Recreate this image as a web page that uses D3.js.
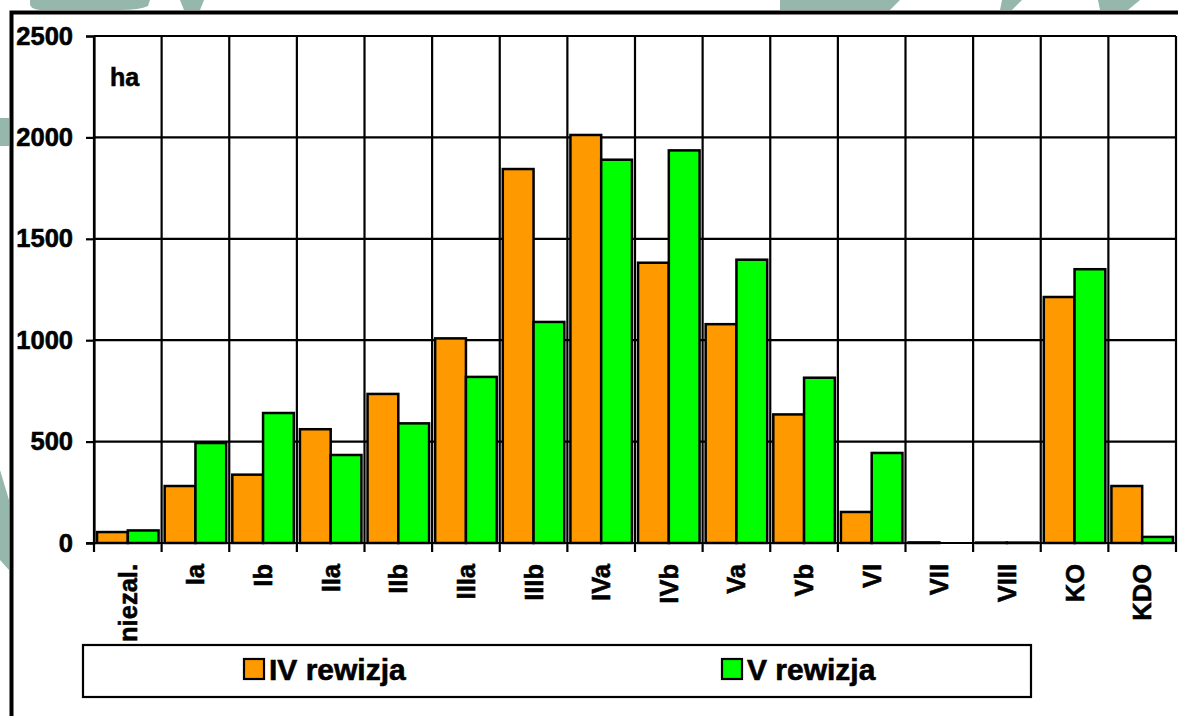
<!DOCTYPE html>
<html>
<head>
<meta charset="utf-8">
<script src="https://cdn.jsdelivr.net/npm/d3@7"></script>
<style>
    body { margin: 0; background: #fff; }
    svg { display: block; font-family: "Liberation Sans", Arial, sans-serif; font-weight: bold; }
    .heavy { stroke: #000; stroke-width: 0.6px; fill: #000; }
</style>
</head>
<body>
<svg id="chart" width="1178" height="716"></svg>
<script>
// data (ha)
const categories = ['niezal.', 'Ia', 'Ib', 'IIa', 'IIb', 'IIIa', 'IIIb', 'IVa', 'IVb', 'Va', 'Vb', 'VI', 'VII', 'VIII', 'KO', 'KDO'];
const seriesNames = ['IV rewizja', 'V rewizja'];
const rewizja4 = [54, 281, 337, 561, 735, 1009, 1844, 2012, 1382, 1079, 634, 153, 3, 2, 1213, 281];
const rewizja5 = [62, 493, 641, 434, 590, 819, 1090, 1890, 1936, 1397, 815, 444, 0, 2, 1350, 30];
const yTicks = [0, 500, 1000, 1500, 2000, 2500];
const unitLabel = 'ha';

const COLOURS = ['#ff9900', '#00ff00'];
const WATERMARK = '#82aa9e';

const svg = d3.select('#chart');
const plot = { left: 94, right: 1176, top: 36, bottom: 543 };

const x0 = d3.scaleBand().domain(categories).range([plot.left, plot.right]).padding(0);
const x1 = d3.scaleBand().domain(seriesNames)
    .range([x0.bandwidth() * 0.045, x0.bandwidth() * 0.955]).padding(0);
const y = d3.scaleLinear().domain([0, 2500]).range([plot.bottom, plot.top]);

const rows = categories.map((c, i) => ({ category: c, values: [rewizja4[i], rewizja5[i]] }));

// faint watermark bits from the page behind the chart
const blobs = [
    'M30,0 L150,0 L148,6 Q140,10 120,10 L40,10 Q30,9 30,4 Z',
    'M180,0 L204,0 L200,10 L184,10 Z',
    'M780,0 L900,0 L890,10 L780,10 Z',
    'M1002,0 L1022,0 L1012,10 L1000,10 Z',
    'M1098,0 L1140,0 L1128,10 L1100,10 Z',
    'M0,118 L9,118 L9,146 L0,146 Z',
    'M0,470 L9,500 L9,570 L0,560 Z'
];
svg.append('g').selectAll('path').data(blobs).join('path')
    .attr('d', d => d)
    .attr('fill', WATERMARK)
    .attr('opacity', 0.85);

// white chart area
svg.append('rect')
    .attr('x', 11).attr('y', 13)
    .attr('width', 1178 - 11).attr('height', 716 - 13)
    .attr('fill', '#fff');

// horizontal gridlines
svg.append('g').selectAll('line').data(yTicks).join('line')
    .attr('x1', plot.left).attr('x2', plot.right)
    .attr('y1', d => y(d)).attr('y2', d => y(d))
    .attr('stroke', '#000').attr('stroke-width', 2.2);

// vertical gridlines at category boundaries
const boundaries = categories.map(c => x0(c)).concat([plot.right]);
svg.append('g').selectAll('line').data(boundaries).join('line')
    .attr('x1', d => d).attr('x2', d => d)
    .attr('y1', plot.top).attr('y2', plot.bottom + 9)
    .attr('stroke', '#000').attr('stroke-width', 2.2);

// bars
const groups = svg.append('g').selectAll('g').data(rows).join('g')
    .attr('transform', d => `translate(${x0(d.category)},0)`);
groups.selectAll('rect')
    .data(d => d.values.map((v, i) => ({ name: seriesNames[i], value: v, i })))
    .join('rect')
    .attr('x', d => x1(d.name))
    .attr('width', x1.bandwidth())
    .attr('y', d => y(d.value))
    .attr('height', d => y(0) - y(d.value))
    .attr('fill', d => COLOURS[d.i])
    .attr('stroke', '#000')
    .attr('stroke-width', 2.5);

// y axis
const yAxis = svg.append('g')
    .attr('transform', `translate(${plot.left},0)`)
    .call(d3.axisLeft(y).tickValues(yTicks).tickFormat(d3.format('d')).tickSize(8).tickPadding(13));
yAxis.select('.domain').attr('stroke', '#000').attr('stroke-width', 2.2);
yAxis.selectAll('.tick line').attr('stroke', '#000').attr('stroke-width', 2.2);
yAxis.selectAll('.tick text')
    .attr('class', 'heavy')
    .style('font-size', '25.5px')
    .style('font-family', '"Liberation Sans", Arial, sans-serif')
    .style('font-weight', 'bold');

// baseline
svg.append('line')
    .attr('x1', plot.left - 8).attr('x2', plot.right)
    .attr('y1', y(0)).attr('y2', y(0))
    .attr('stroke', '#000').attr('stroke-width', 2.2);

// category labels, rotated
svg.append('g').selectAll('text').data(categories).join('text')
    .attr('class', 'heavy')
    .attr('transform', d => `translate(${x0(d) + x0.bandwidth() / 2},${plot.bottom + 21}) rotate(-90)`)
    .attr('text-anchor', 'end')
    .attr('dy', '0.35em')
    .style('font-size', '25.5px')
    .text(d => d);

// unit label
svg.append('text')
    .attr('class', 'heavy')
    .attr('x', 110).attr('y', 86)
    .style('font-size', '25px')
    .text(unitLabel);

// legend
const legend = svg.append('g');
legend.append('rect')
    .attr('x', 83).attr('y', 645)
    .attr('width', 948).attr('height', 52)
    .attr('fill', '#fff').attr('stroke', '#000').attr('stroke-width', 2.2);
const legendX = d3.scaleOrdinal().domain(seriesNames).range([244, 722]);
const items = legend.selectAll('g').data(seriesNames).join('g')
    .attr('transform', d => `translate(${legendX(d)},659)`);
items.append('rect')
    .attr('width', 20).attr('height', 20)
    .attr('fill', (d, i) => COLOURS[i])
    .attr('stroke', '#000').attr('stroke-width', 2.2);
items.append('text')
    .attr('class', 'heavy')
    .attr('x', 25).attr('y', 21)
    .style('font-size', '30px')
    .text(d => d);

// outer chart frame (left and top edges visible)
svg.append('path')
    .attr('d', 'M11.5,716 L11.5,12.5 L1178,12.5')
    .attr('fill', 'none')
    .attr('stroke', '#000')
    .attr('stroke-width', 4);
</script>
</body>
</html>
